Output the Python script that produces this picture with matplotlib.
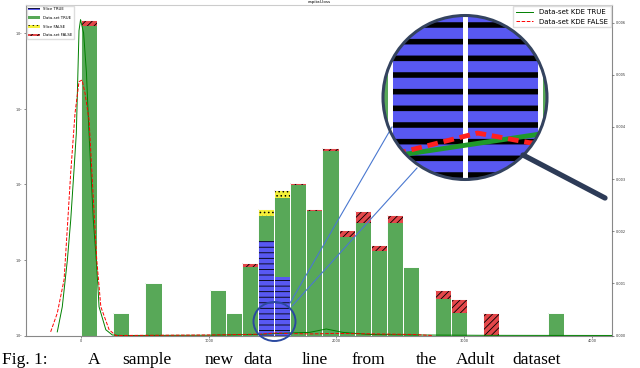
import numpy as np
import matplotlib
matplotlib.use("Agg")
import matplotlib.pyplot as plt
from matplotlib.lines import Line2D
from matplotlib.patches import Circle, Ellipse
from matplotlib.ticker import FixedLocator, NullLocator, FormatStrFormatter

# capital-loss histogram, 35 equal bins
bin_edges = np.linspace(0, 4410, 36)

slice_true = [0, 0, 0, 0, 0, 0, 0, 0, 0, 0, 0, 18, 6, 0, 0, 0, 0, 0, 0, 0,
              0, 0, 0, 0, 0, 0, 0, 0, 0, 0, 0, 0, 0, 0, 0]
dataset_true = [12600, 0, 2, 0, 5, 0, 0, 0, 4, 2, 8, 20, 61, 98, 45, 280, 20, 31, 13, 31,
                8, 0, 3, 2, 0, 0, 0, 0, 0, 2, 0, 0, 0, 0, 0]
slice_false = [0, 0, 0, 0, 0, 0, 0, 0, 0, 0, 0, 9, 15, 0, 0, 0, 0, 0, 0, 0,
               0, 0, 0, 0, 0, 0, 0, 0, 0, 0, 0, 0, 0, 0, 0]
dataset_false = [2500, 0, 0, 0, 0, 0, 0, 0, 0, 0, 1, 1, 3, 6, 2, 24, 5, 13, 3, 8,
                 0, 0, 1, 1, 0, 2, 0, 0, 0, 0, 0, 0, 0, 0, 0]

# KDE curves
kde_true_x = [-186, -147, -107, -81, -55, -37, -16, -4, 20, 42, 60, 96, 123, 141, 194, 245, 320,
              1000, 1380, 1650, 1790, 1920, 2050, 2250, 2600, 3200, 4400]
kde_true_y = [0.00007, 0.00055, 0.00145, 0.00221, 0.00318, 0.00388, 0.00585, 0.00606, 0.0058,
              0.00505, 0.0040, 0.00222, 0.00132, 0.00055, 0.00011, 0.00001, 0.0,
              0.000005, 0.00002, 0.00005, 0.00006, 0.000125, 0.00006, 0.00002, 0.00001, 0.000003, 0.0]
kde_false_x = [-238, -186, -133, -107, -81, -47, -16, 8, 31, 63, 102, 123, 155, 220, 272,
               1000, 1400, 1533, 1620, 1800, 2000, 2300, 2600, 2750]
kde_false_y = [0.00007, 0.00043, 0.00107, 0.00208, 0.00312, 0.00427, 0.00487, 0.0049, 0.00465,
               0.00413, 0.00235, 0.00145, 0.00055, 0.00011, 0.0,
               0.00001, 0.000025, 0.00005, 0.000038, 0.00003, 0.00004, 0.00003, 0.00002, 0.0]

x_ticks = [0, 1000, 2000, 3000, 4000]
kde_ticks = [0.0, 0.001, 0.002, 0.003, 0.004, 0.005, 0.006]

caption_words = ["Fig. 1:", "A", "sample", "new", "data", "line", "from", "the", "Adult", "dataset"]
caption_left_px = [2, 88, 122, 205, 243, 302, 352, 416, 456, 512]

BLUE = "#5858f2"
GREEN = "#58a858"
YELLOW = "#f4f03a"
RED = "#e4474a"

plt.rcParams["hatch.linewidth"] = 0.6


def draw_stacks(target, hatches, edge_lw, stripe_lw=None):
    lefts = bin_edges[:-1]
    widths = np.diff(bin_edges)
    bottom = np.zeros(len(lefts))
    containers = []
    layers = [slice_true, dataset_true, slice_false, dataset_false]
    colors = [BLUE, GREEN, YELLOW, RED]
    for counts, color, hatch in zip(layers, colors, hatches):
        counts = np.asarray(counts, dtype=float)
        bars = target.bar(lefts, counts, width=widths, bottom=bottom, align="edge",
                          color=color, edgecolor="black", linewidth=0, hatch=hatch)
        if stripe_lw is not None:
            for patch in bars:
                if hasattr(patch, "set_hatch_linewidth"):
                    patch.set_hatch_linewidth(stripe_lw)
        containers.append(bars)
        bottom = bottom + counts
    target.bar(lefts, bottom, width=widths, align="edge", facecolor="none",
               edgecolor="white", linewidth=edge_lw)
    return containers


fig = plt.figure(figsize=(6.4, 3.68), dpi=100)
ax = fig.add_axes([26 / 640, 1 - 335.5 / 368, 586 / 640, 330.5 / 368])
ax.set_yscale("log")
bars = draw_stacks(ax, ["---", None, "....", "/////"], edge_lw=0.7)
ax.set_xlim(-431, 4157)
ax.set_ylim(1, 23800)
ax.xaxis.set_major_locator(FixedLocator(x_ticks))
ax.yaxis.set_minor_locator(NullLocator())
ax.tick_params(labelsize=2.5, length=1.5, width=0.4, pad=1, colors="#333333")
ax.set_title("capital-loss", fontsize=3, pad=1.5)
for side, spine in ax.spines.items():
    spine.set_color("#cccccc" if side == "top" else "#888888")
    spine.set_linewidth(0.8)

ax.legend(bars, ["Slice TRUE", "Data-set TRUE", "Slice FALSE", "Data-set FALSE"],
          loc="upper left", fontsize=2.8, handlelength=3, borderaxespad=0.2,
          labelspacing=1.2, framealpha=1, edgecolor="#dddddd", fancybox=False)

ax_kde = ax.twinx()
ax_kde.plot(kde_true_x, kde_true_y, color="green", linewidth=0.7, label="Data-set KDE TRUE")
ax_kde.plot(kde_false_x, kde_false_y, color="red", linewidth=0.7, linestyle="--",
            label="Data-set KDE FALSE")
ax_kde.set_ylim(0, 0.00634)
ax_kde.yaxis.set_major_locator(FixedLocator(kde_ticks))
ax_kde.yaxis.set_major_formatter(FormatStrFormatter("%.3f"))
ax_kde.tick_params(labelsize=2.5, length=1.5, width=0.4, pad=1, colors="#333333")
for spine in ax_kde.spines.values():
    spine.set_visible(False)
ax_kde.legend(loc="upper right", fontsize=5, handlelength=2.5, borderaxespad=0.2,
              framealpha=1, edgecolor="#dddddd", fancybox=False)

# magnifier lens showing the bottom of the slice bars
ax_in = fig.add_axes([383 / 640, 1 - 179.5 / 368, 164 / 640, 164 / 368])
ax_in.set_yscale("log")
draw_stacks(ax_in, ["-", None, None, None], edge_lw=3.5, stripe_lw=4)
ax_in.set_xlim(1374, 1650)
ax_in.set_ylim(0.01, 3)
ax_in.axis("off")
ax_in_kde = ax_in.twinx()
ax_in_kde.plot(kde_true_x, kde_true_y, color="#1f9a2a", linewidth=3.5)
ax_in_kde.plot(kde_false_x, kde_false_y, color="#ff2020", linewidth=3.5,
               linestyle=(0, (2.2, 1.2)))
ax_in_kde.set_xlim(1374, 1650)
ax_in_kde.set_ylim(-0.0000081, 0.000197)
ax_in_kde.axis("off")
lens = Circle((0.5, 0.5), 0.5, transform=ax_in.transAxes)
for artist in list(ax_in.patches) + list(ax_in_kde.lines):
    artist.set_clip_path(lens)

fig.add_artist(Circle((0.5, 0.5), 0.5, transform=ax_in.transAxes, fill=False,
                      edgecolor="#34435f", linewidth=2.2, zorder=6))
fig.add_artist(Line2D([523 / 640, 605 / 640], [1 - 155 / 368, 1 - 198 / 368],
                      transform=fig.transFigure, color="#2d3b57", linewidth=3.8,
                      solid_capstyle="round", zorder=6))
fig.add_artist(Ellipse((274.5 / 640, 1 - 321.5 / 368), 42 / 640, 39 / 368,
                       transform=fig.transFigure, fill=False, edgecolor="#2b4aa0",
                       linewidth=1.4, zorder=6))
fig.add_artist(Line2D([290 / 640, 392 / 640], [1 - 303 / 368, 1 - 127 / 368],
                      transform=fig.transFigure, color="#4a78d0", linewidth=0.8, zorder=5))
fig.add_artist(Line2D([292 / 640, 417 / 640], [1 - 306 / 368, 1 - 168 / 368],
                      transform=fig.transFigure, color="#4a78d0", linewidth=0.8, zorder=5))

for word, left in zip(caption_words, caption_left_px):
    fig.text(left / 640, 4.5 / 368, word, fontsize=12.5, family="Liberation Serif",
             va="baseline", ha="left")

fig.savefig("out.png", dpi=100)
